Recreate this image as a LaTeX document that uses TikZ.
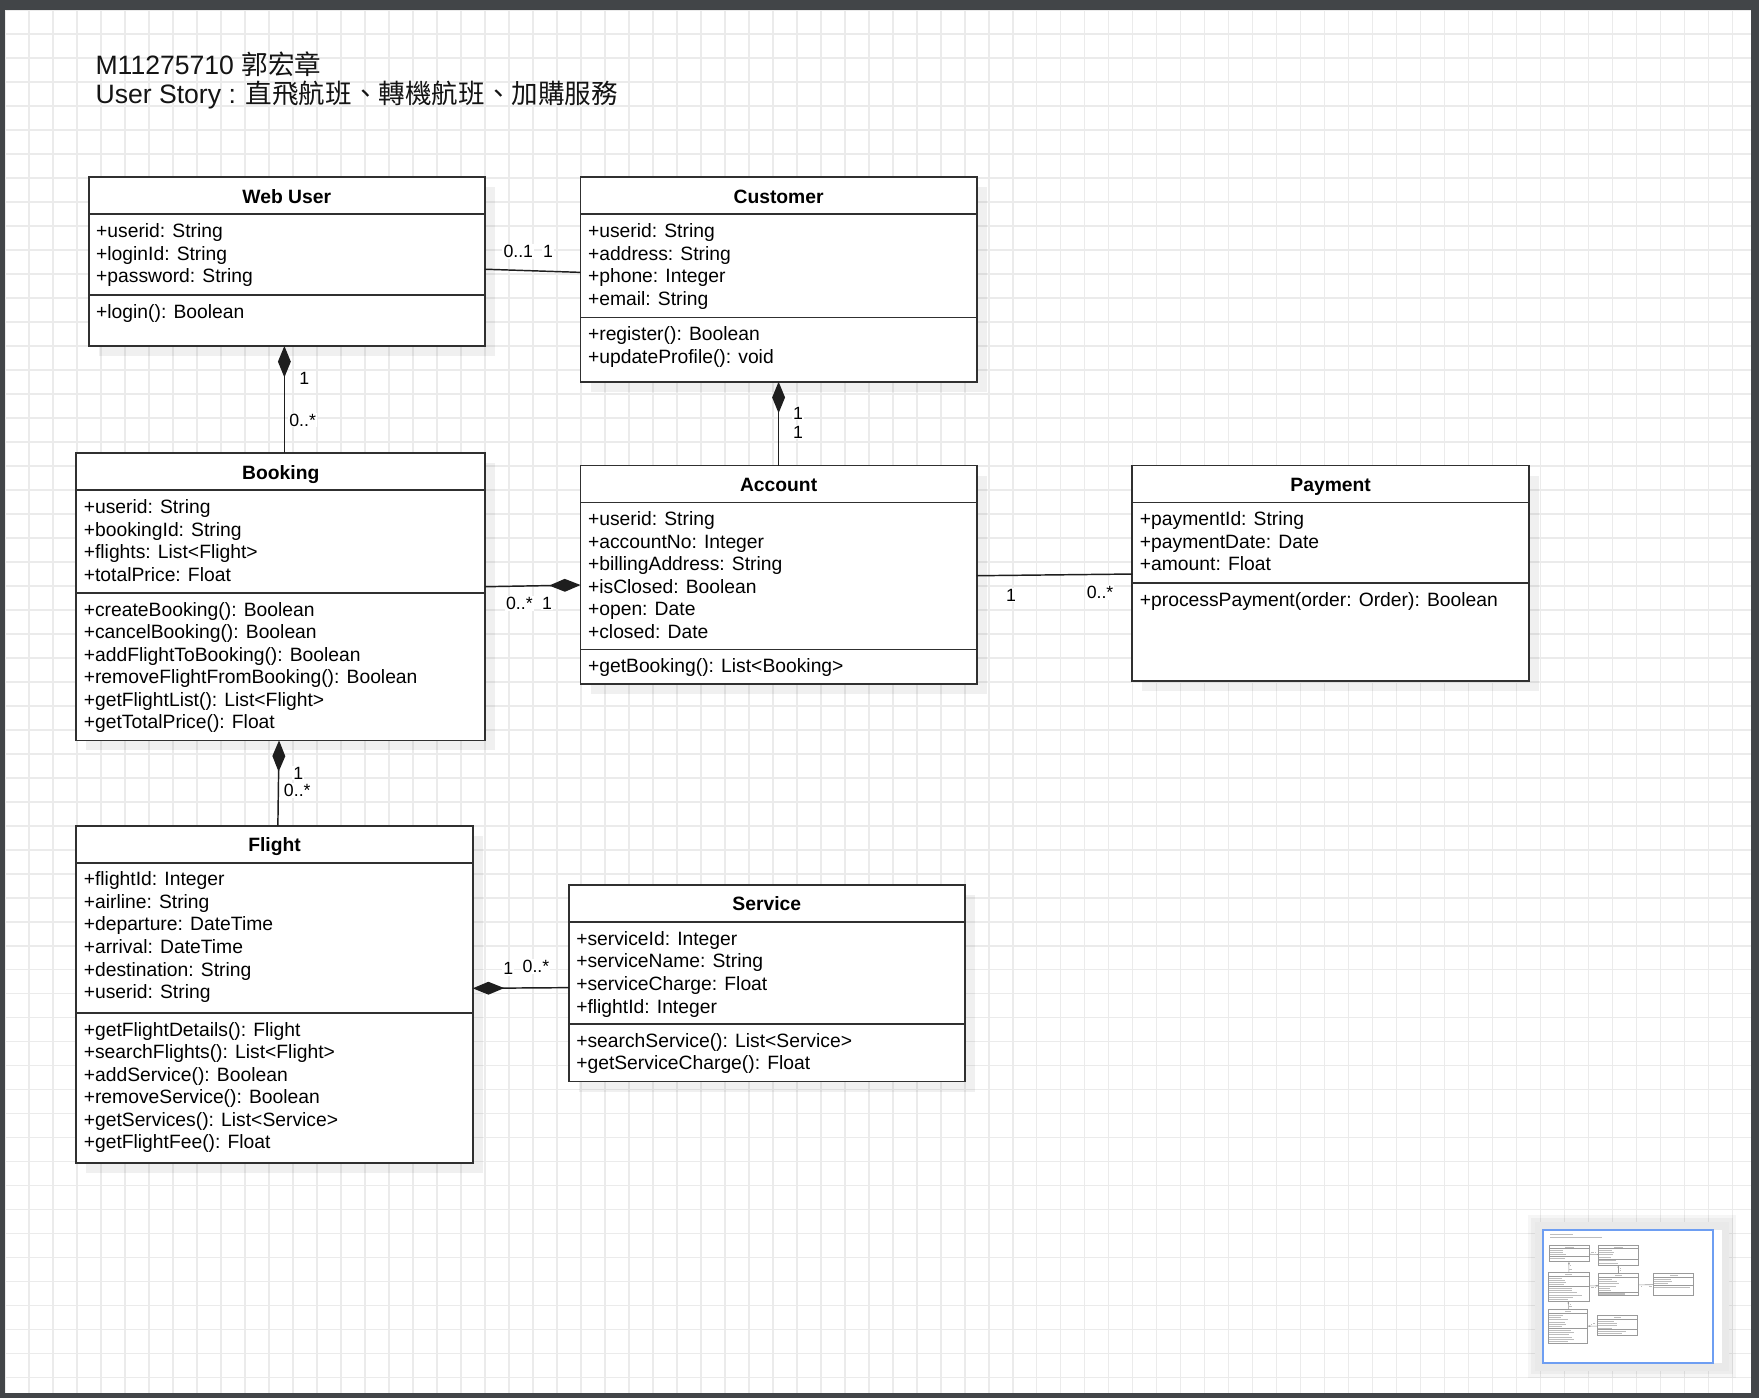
\documentclass[tikz,border=0pt]{standalone}
\usepackage{fontspec}
\setmainfont{Liberation Sans}
\newfontfamily\cjk{Noto Sans CJK TC}
\usetikzlibrary{calc,arrows.meta,shadows}
\definecolor{framec}{HTML}{424548}
\definecolor{gridc}{HTML}{EBEBEB}
\definecolor{panelgray}{HTML}{E9E9E9}
\definecolor{thumbblue}{HTML}{6E9EF2}
\definecolor{thumbline}{HTML}{9A9A9A}
\definecolor{thumbtxt}{HTML}{BDBDBD}
\definecolor{boxc}{HTML}{303030}
\definecolor{linec}{HTML}{1E1E1E}
\newif\ifthumb
\newcommand\T[1]{\ifthumb\sbox0{#1}\textcolor{thumbtxt}{\rule[0.5pt]{\wd0}{9pt}}\else#1\fi}
% #1 name #2 title #3 x #4 y #5 width #6 height #7 attr-sep offset #8 attributes #9 methods
\newcommand\umlclass[9]{%
  \node[clsbox, minimum width=#5pt, minimum height=#6pt, anchor=north west] (#1) at (#3,#4) {};
  \draw[clsline] ($(#1.north west)+(0,33)$) -- ($(#1.north east)+(0,33)$);
  \draw[clsline] ($(#1.north west)+(0,#7)$) -- ($(#1.north east)+(0,#7)$);
  \node[hdrtxt, anchor=base] (#1-t) at ($(#1.north)+(0,23)$) {\T{#2}};
  \foreach \mm [count=\ii] in {#8}
    \node[memtxt, anchor=base west] (#1-a\ii) at ($(#1.north west)+(6.5,{53.7+(\ii-1)*20.1})$) {\T{\mm}};
  \foreach \mm [count=\ii] in {#9}
    \node[memtxt, anchor=base west] (#1-m\ii) at ($(#1.north west)+(6.5,{#7+20.7+(\ii-1)*20.1})$) {\T{\mm}};
}
\newcommand\umldiagram{%
  \node[titletxt, anchor=base west] (title1) at (85,66) {\T{M11275710 {\cjk 郭宏章}}};
  \node[titletxt, anchor=base west] (title2) at (85,92) {\T{User Story : {\cjk 直飛航班、轉機航班、加購服務}}};
  \umlclass{web}{Web User}{79}{158}{353.3}{150.4}{105}
    {+userid: String,+loginId: String,+password: String}
    {+login(): Boolean}
  \umlclass{cust}{Customer}{517.5}{158}{353.1}{182.3}{125}
    {+userid: String,+address: String,+phone: Integer,+email: String}
    {+register(): Boolean,+updateProfile(): void}
  \umlclass{book}{Booking}{68}{404}{364.5}{256}{124.5}
    {+userid: String,+bookingId: String,+flights: List<Flight>,+totalPrice: Float}
    {+createBooking(): Boolean,+cancelBooking(): Boolean,+addFlightToBooking(): Boolean,+removeFlightFromBooking(): Boolean,+getFlightList(): List<Flight>,+getTotalPrice(): Float}
  \umlclass{acct}{Account}{517.5}{415}{353.1}{195}{164}
    {+userid: String,+accountNo: Integer,+billingAddress: String,+isClosed: Boolean,+open: Date,+closed: Date}
    {+getBooking(): List<Booking>}
  \umlclass{pay}{Payment}{1009.4}{415}{353.6}{192}{105}
    {+paymentId: String,+paymentDate: Date,+amount: Float}
    {+processPayment(order: Order): Boolean}
  \umlclass{flight}{Flight}{68}{736}{353.4}{301}{167}
    {+flightId: Integer,+airline: String,+departure: DateTime,+arrival: DateTime,+destination: String,+userid: String}
    {+getFlightDetails(): Flight,+searchFlights(): List<Flight>,+addService(): Boolean,+removeService(): Boolean,+getServices(): List<Service>,+getFlightFee(): Float}
  \umlclass{serv}{Service}{507}{789}{353}{175}{124}
    {+serviceId: Integer,+serviceName: String,+serviceCharge: Float,+flightId: Integer}
    {+searchService(): List<Service>,+getServiceCharge(): Float}
  % connectors
  \draw[assoc] ($(web.north east)+(0,82)$) -- ($(cust.north west)+(0,84.8)$);
  \draw[assoc, comp] ($(web.south)+(-2.15,0)$) -- ($(book.north)+(3.25,0)$);
  \draw[assoc, comp] (cust.south) -- (acct.north);
  \draw[assoc, comprev] ($(book.north east)+(0,119)$) -- ($(acct.north west)+(0,106.5)$);
  \draw[assoc] ($(acct.north east)+(0,98.2)$) -- ($(pay.north west)+(0,96.7)$);
  \draw[assoc, comp] ($(book.south)+(-1.5,0)$) -- ($(flight.north)+(3,0)$);
  \draw[assoc, comp] ($(flight.north east)+(0,145)$) -- ($(serv.north west)+(0,91.4)$);
  % multiplicities
  \node[lbl] (l1a) at (462,224.3) {\T{0..1}};
  \node[lbl] (l1b) at (488.5,224.3) {\T{1}};
  \node[lbl] (l2a) at (271.3,337.3) {\T{1}};
  \node[lbl] (l2b) at (269.8,374.4) {\T{0..*}};
  \node[lbl] (l3a) at (711.4,368.2) {\T{1}};
  \node[lbl] (l3b) at (711.4,385.1) {\T{1}};
  \node[lbl] (l4a) at (463,537.8) {\T{0..*}};
  \node[lbl] (l4b) at (487.6,537.5) {\T{1}};
  \node[lbl] (l5a) at (901.2,530.4) {\T{1}};
  \node[lbl] (l5b) at (980.6,528.3) {\T{0..*}};
  \node[lbl] (l6a) at (266,689) {\T{1}};
  \node[lbl] (l6b) at (265,705) {\T{0..*}};
  \node[lbl] (l7a) at (453.1,863.2) {\T{1}};
  \node[lbl] (l7b) at (477.8,861.7) {\T{0..*}};
}
\begin{document}
\begin{tikzpicture}[x=1pt, y=-1pt,
  clsbox/.style={draw=boxc, line width=1.6pt, fill=white, inner sep=0pt, outer sep=0pt,
    drop shadow={shadow xshift=9pt, shadow yshift=-9pt, fill=black, opacity=0.06}},
  clsline/.style={draw=boxc, line width=1.6pt},
  assoc/.style={draw=linec, line width=1.3pt},
  comp/.style={{Diamond[length=28pt,width=11.5pt]}-},
  comprev/.style={-{Diamond[length=28pt,width=11.5pt]}},
  memtxt/.style={inner sep=0pt, text=black, font=\fontsize{17.2}{20.1}\selectfont},
  hdrtxt/.style={inner sep=0pt, text=black, font=\fontsize{17.2}{20.1}\selectfont\bfseries},
  lbl/.style={fill=white, inner sep=1pt, text=black, font=\fontsize{15.8}{18}\selectfont},
  titletxt/.style={inner sep=0pt, text=black!92, font=\fontsize{23.7}{27}\selectfont},
  gridline/.style={draw=gridc, line width=1.2pt}]
\useasboundingbox (0,0) rectangle (1568,1246);
\fill[white] (0,0) rectangle (1568,1246);
\foreach \gx in {0,...,73} \draw[gridline] ({4.46+21.39*\gx},0) -- ({4.46+21.39*\gx},1246);
\foreach \gy in {0,...,57} \draw[gridline] (0,{8.91+21.39*\gy}) -- (1568,{8.91+21.39*\gy});
\thumbfalse
\umldiagram
% minimap
\fill[black, opacity=0.035] (1362,1083) rectangle (1547.5,1228);
\fill[black, opacity=0.035] (1365,1086) rectangle (1544.5,1225);
\fill[panelgray] (1368.3,1089) rectangle (1541.5,1222);
\fill[white] (1375.2,1096.5) rectangle (1534.8,1214.7);
\begin{scope}[shift={(1373.2,1094)}, scale=0.1, transform shape]
  \thumbtrue
  \tikzset{
    clsbox/.style={draw=thumbline, line width=0.7pt, fill=white, inner sep=0pt, outer sep=0pt},
    clsline/.style={draw=thumbline, line width=0.7pt},
    assoc/.style={draw=thumbline, line width=0.5pt},
    comp/.style={{Diamond[length=3pt,width=1.3pt]}-},
    comprev/.style={-{Diamond[length=3pt,width=1.3pt]}}}
  \umldiagram
\end{scope}
\thumbfalse
\draw[thumbblue, line width=1.8pt] (1375.2,1096.5) rectangle (1526.7,1214.7);
% window frame
\fill[framec] (0,0) rectangle (1568,9);
\fill[framec] (0,0) rectangle (4.5,1246);
\fill[framec] (1561,0) rectangle (1568,1246);
\fill[framec] (0,1241.5) rectangle (1568,1246);
\end{tikzpicture}
\end{document}
